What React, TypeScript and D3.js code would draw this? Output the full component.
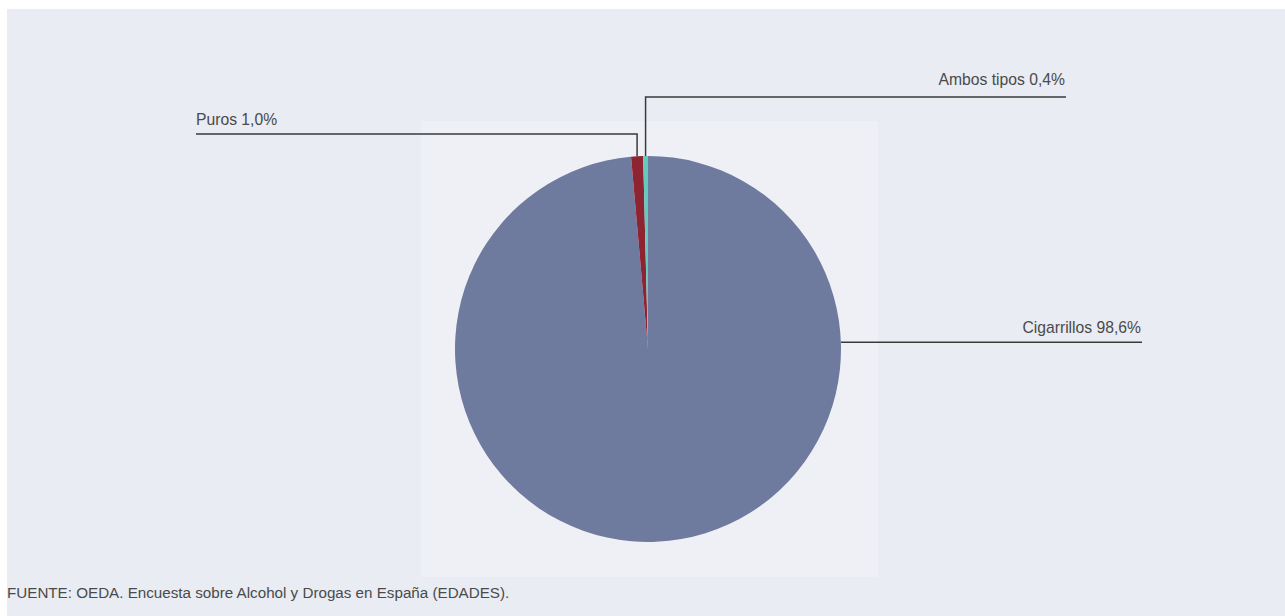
import React from "react";
import * as d3 from "d3";

const categories = ["Cigarrillos", "Puros", "Ambos tipos"];
const values = [98.6, 1.0, 0.4];
const colors = ["#6e7a9e", "#8e2431", "#63cbbd"];
const source = "FUENTE: OEDA. Encuesta sobre Alcohol y Drogas en España (EDADES).";

const W = 1285;
const H = 616;
const cx = 648;
const cy = 349;
const R = 193;

const fmt = (v: number) => v.toFixed(1).replace(".", ",") + "%";

export default function App() {
  const data = categories.map((c, i) => ({ c, v: values[i], color: colors[i] }));
  const arcs = d3.pie<any>().sort(null).value((d: any) => d.v)(data);
  const arcGen = d3.arc<any>().innerRadius(0).outerRadius(R);
  const pt = (a: number, r: number) => [cx + r * Math.sin(a), cy - r * Math.cos(a)];

  // label layouts (positions only)
  const labels = arcs.map((a: any, i: number) => {
    const mid = (a.startAngle + a.endAngle) / 2;
    if (i === 0) {
      const ang = (88 * Math.PI) / 180;
      const [x0, y0] = pt(ang, R);
      const x1 = 1142;
      return { path: `M${x0},${y0}H${x1}`, tx: x1 - 1, ty: y0 - 9, anchor: "end", text: `${a.data.c} ${fmt(a.data.v)}` };
    } else if (i === 1) {
      const [x0, y0] = pt(mid, R);
      const yl = 134;
      const x1 = 196;
      return { path: `M${x0},${y0}V${yl}H${x1}`, tx: x1, ty: yl - 9, anchor: "start", text: `${a.data.c} ${fmt(a.data.v)}` };
    } else {
      const [x0, y0] = pt(mid, R);
      const yl = 97;
      const x1 = 1066;
      return { path: `M${x0},${y0}V${yl}H${x1}`, tx: x1 - 1, ty: yl - 12, anchor: "end", text: `${a.data.c} ${fmt(a.data.v)}` };
    }
  });

  return (
    <svg width={W} height={H} style={{ position: "absolute", left: 0, top: 0, display: "block" }}
      fontFamily="'Liberation Sans', Arial, Helvetica, sans-serif">
      <rect x={7} y={9} width={W - 7} height={H - 9} fill="#e9ecf3" />
      <rect x={421} y={121} width={457} height={456} fill="#eff0f5" />
      <g transform={`translate(${cx},${cy})`}>
        {arcs.map((a: any, i: number) => (
          <path key={i} d={arcGen(a) as string} fill={a.data.color} />
        ))}
      </g>
      {labels.map((l: any, i: number) => (
        <g key={i}>
          <path d={l.path} fill="none" stroke="#3a3a3a" strokeWidth={1.5} />
          <text x={l.tx} y={l.ty} textAnchor={l.anchor} fontSize={15.7} fill="#4a4a4a">{l.text}</text>
        </g>
      ))}
      <text x={7} y={598} fontSize={15.2} fill="#4a4a4a">{source}</text>
    </svg>
  );
}
